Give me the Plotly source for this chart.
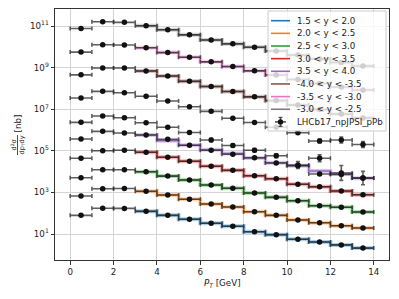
import plotly.graph_objects as go

# ---------------- data ----------------
pt_centers = [0.5, 1.5, 2.5, 3.5, 4.5, 5.5, 6.5, 7.5, 8.5, 9.5, 10.5, 11.5, 12.5, 13.5]
pt_halfwidth = [0.5] * 14
theory_edges = [3, 4, 5, 6, 7, 8, 9, 10, 11, 12, 13, 14]

# data (scaled per rapidity bin), bottom to top
d_15_20 = [79, 172, 170, 123, 79, 51, 33, 23.5, 12.9, 9.3, 5.6, 4.1, 3.0, 2.1]
d_20_25 = [670, 1500, 1540, 1130, 750, 466, 277, 199, 118, 79, 47, 35, 25, 19.4]
d_25_30 = [5100, 12300, 12300, 9900, 6100, 3950, 2270, 1580, 940, 580, 400, 230, 192, 114]
d_30_35 = [43600, 101000, 106000, 85000, 48700, 31300, 18000, 11500, 6350, 4560, 2450, 1880, 1170, 775]
d_35_40 = [3.69e5, 8.65e5, 7.2e5, 5.75e5, 3.57e5, 1.84e5, 1.06e5, 6.8e4, 4.66e4, 2.59e4, 1.92e4, 7.7e3, 7.3e3, 4.9e3]
d_m50_m45 = [2.34e6, 4.71e6, 3.9e6, 2.24e6, 1.35e6, 7.6e5, 3.3e5, 1.8e5, 1.06e5, 5.8e4, 2.08e4, 4.36e4, 8.6e3, 4.9e3]
d_m45_m40 = [3.45e7, 7.26e7, 6.2e7, 4.22e7, 2.48e7, 1.32e7, 7.9e6, 3.7e6, 2.3e6, 1.35e6, 7.4e5, 2.96e5, 3.3e5, 2.0e5]
d_m40_m35 = [4.5e8, 9.6e8, 9.6e8, 6.9e8, 3.95e8, 2.19e8, 1.23e8, 7.1e7, 3.95e7, 2.6e7, 1.6e7, 9.7e6, 5.9e6, 3.8e6]
d_m35_m30 = [5.6e9, 1.26e10, 1.22e10, 9.1e9, 5.3e9, 3.16e9, 1.9e9, 1.13e9, 7.0e8, 4.4e8, 2.7e8, 1.72e8, 1.17e8, 8.4e7]
d_m30_m25 = [7.6e10, 1.61e11, 1.51e11, 1.03e11, 6.6e10, 3.78e10, 2.12e10, 1.39e10, 9.6e9, 6.3e9, 4.0e9, 2.6e9, 1.76e9, 1.19e9]

# relative y uncertainties (up, down) - small except for low-statistics points
err_small = [0.08] * 14
err_up_m50_m45 = [0.08, 0.08, 0.08, 0.08, 0.08, 0.1, 0.2, 0.2, 0.2, 0.25, 0.47, 0.47, 1.29, 1.09]
err_dn_m50_m45 = [0.08, 0.08, 0.08, 0.08, 0.08, 0.1, 0.17, 0.17, 0.17, 0.2, 0.32, 0.32, 0.56, 0.52]
err_up_m45_m40 = [0.08, 0.08, 0.08, 0.08, 0.08, 0.08, 0.08, 0.08, 0.08, 0.1, 0.15, 0.25, 0.39, 0.39]
err_dn_m45_m40 = [0.08, 0.08, 0.08, 0.08, 0.08, 0.08, 0.08, 0.08, 0.08, 0.1, 0.13, 0.2, 0.28, 0.28]

# theory step values for bins 3-4 ... 13-14
t_15_20 = [123, 79, 51, 33, 23.5, 12.9, 9.3, 5.6, 4.1, 3.0, 2.1]
t_20_25 = [1130, 750, 466, 277, 199, 118, 79, 47, 35, 25, 19.4]
t_25_30 = [9900, 6100, 3950, 2270, 1580, 940, 580, 400, 230, 192, 114]
t_30_35 = [85000, 48700, 31300, 18000, 11500, 6350, 4560, 2450, 1880, 1170, 775]
t_35_40 = [5.75e5, 3.06e5, 1.84e5, 1.13e5, 7.4e4, 4.5e4, 2.68e4, 1.92e4, 1.07e4, 7.67e3, 4.77e3]
t_m40_m35 = [6.9e8, 3.95e8, 2.19e8, 1.23e8, 7.1e7, 3.95e7, 2.6e7, 1.6e7, 9.7e6, 5.9e6, 3.8e6]
t_m35_m30 = [9.1e9, 5.3e9, 3.16e9, 1.9e9, 1.13e9, 7.0e8, 4.4e8, 2.7e8, 1.72e8, 1.17e8, 8.4e7]
t_m30_m25 = [1.03e11, 6.6e10, 3.78e10, 2.12e10, 1.39e10, 9.6e9, 6.3e9, 4.0e9, 2.6e9, 1.76e9, 1.19e9]

theory_labels = ["1.5 < y < 2.0", "2.0 < y < 2.5", "2.5 < y < 3.0", "3.0 < y < 3.5",
                 "3.5 < y < 4.0", "-4.0 < y < -3.5", "-3.5 < y < -3.0", "-3.0 < y < -2.5"]
data_label = "LHCb17_npJPSI_pPb"
x_ticks = [0, 2, 4, 6, 8, 10, 12, 14]
y_ticks = [1e1, 1e3, 1e5, 1e7, 1e9, 1e11]
y_ticktext = ["10<sup>1</sup>", "10<sup>3</sup>", "10<sup>5</sup>", "10<sup>7</sup>",
              "10<sup>9</sup>", "10<sup>11</sup>"]

# ---------------- styling ----------------
colors = ["#1f77b4", "#ff7f0e", "#2ca02c", "#d62728", "#9467bd", "#8c564b", "#e377c2", "#7f7f7f"]
band_colors = ["rgba(31,119,180,0.35)", "rgba(255,127,14,0.35)", "rgba(44,160,44,0.35)",
               "rgba(214,39,40,0.35)", "rgba(148,103,189,0.35)", "rgba(140,86,75,0.35)",
               "rgba(227,119,194,0.35)", "rgba(127,127,127,0.35)"]
FONT = "DejaVu Sans"
FS = 8.7

theories = [t_15_20, t_20_25, t_25_30, t_30_35, t_35_40, t_m40_m35, t_m35_m30, t_m30_m25]
datas = [d_15_20, d_20_25, d_25_30, d_30_35, d_35_40, d_m50_m45, d_m45_m40, d_m40_m35, d_m35_m30, d_m30_m25]
errs = [(err_small, err_small)] * 5 + [(err_up_m50_m45, err_dn_m50_m45), (err_up_m45_m40, err_dn_m45_m40)] + [(err_small, err_small)] * 3

fig = go.Figure()

for vals, col, bcol, lab in zip(theories, colors, band_colors, theory_labels):
    yv = list(vals) + [vals[-1]]
    fig.add_trace(go.Scatter(x=theory_edges, y=yv, mode="lines", line=dict(color=bcol, width=4, shape="hv"),
                             showlegend=False, hoverinfo="skip"))
    fig.add_trace(go.Scatter(x=theory_edges, y=yv, mode="lines", line=dict(color=col, width=1.5, shape="hv"),
                             name=lab, showlegend=False))

for vals, (eu, ed) in zip(datas, errs):
    fig.add_trace(go.Scatter(
        x=pt_centers, y=vals, mode="markers",
        marker=dict(color="#111111", size=5.5),
        error_x=dict(type="data", array=pt_halfwidth, color="rgba(40,40,40,0.75)", thickness=1.6, width=2),
        error_y=dict(type="data", symmetric=False,
                     array=[v * f for v, f in zip(vals, eu)],
                     arrayminus=[v * f for v, f in zip(vals, ed)],
                     color="rgba(40,40,40,0.75)", thickness=1.6, width=2),
        name=data_label, showlegend=False))

# ---------------- manual legend (matplotlib style) ----------------
L, R, T, B = 55, 389, 9, 260
def px(x):
    return (x - L) / (R - L)
def py(y):
    return (B - y) / (B - T)

shapes = [dict(type="rect", xref="paper", yref="paper", x0=px(268), x1=px(386), y0=py(131), y1=py(11),
               line=dict(color="#cccccc", width=1), fillcolor="rgba(255,255,255,0.8)", layer="above")]
annotations = []
row0, dy = 20.7, 12.65
for i, (col, lab) in enumerate(zip(colors, theory_labels)):
    yy = row0 + dy * i
    shapes.append(dict(type="line", xref="paper", yref="paper", x0=px(271), x1=px(290), y0=py(yy), y1=py(yy),
                       line=dict(color=col, width=1.6), layer="above"))
    annotations.append(dict(text=lab, xref="paper", yref="paper", x=px(295), y=py(yy), xanchor="left",
                            yanchor="middle", showarrow=False, font=dict(family=FONT, size=FS, color="#222")))
yy = row0 + dy * 8
cx = 280.5
shapes.append(dict(type="line", xref="paper", yref="paper", x0=px(275), x1=px(286), y0=py(yy), y1=py(yy),
                   line=dict(color="rgba(40,40,40,0.8)", width=1.6), layer="above"))
shapes.append(dict(type="line", xref="paper", yref="paper", x0=px(cx), x1=px(cx), y0=py(yy - 4.5), y1=py(yy + 4.5),
                   line=dict(color="rgba(40,40,40,0.8)", width=1.6), layer="above"))
for ye in (yy - 4.5, yy + 4.5):
    shapes.append(dict(type="line", xref="paper", yref="paper", x0=px(cx - 2), x1=px(cx + 2), y0=py(ye), y1=py(ye),
                       line=dict(color="rgba(40,40,40,0.8)", width=1.2), layer="above"))
shapes.append(dict(type="circle", xref="paper", yref="paper", xsizemode="pixel", ysizemode="pixel",
                   xanchor=px(cx), yanchor=py(yy), x0=-2.7, x1=2.7, y0=-2.7, y1=2.7,
                   fillcolor="#111111", line=dict(width=0), layer="above"))
annotations.append(dict(text=data_label, xref="paper", yref="paper", x=px(295), y=py(yy), xanchor="left",
                        yanchor="middle", showarrow=False, font=dict(family=FONT, size=FS, color="#222")))

# y-axis title drawn as a rotated fraction: d²σ / (dp_T dy) [nb]
annotations.append(dict(text="d<sup>2</sup>σ", xref="paper", yref="paper",
                        x=px(13.5), y=py(145), textangle=-90, xanchor="center", yanchor="middle",
                        showarrow=False, font=dict(family=FONT, size=6.5, color="#222")))
annotations.append(dict(text="dp<sub>T</sub>dy", xref="paper", yref="paper",
                        x=px(21.5), y=py(145), textangle=-90, xanchor="center", yanchor="middle",
                        showarrow=False, font=dict(family=FONT, size=6.5, color="#222")))
shapes.append(dict(type="line", xref="paper", yref="paper", x0=px(17.5), x1=px(17.5), y0=py(155), y1=py(135),
                   line=dict(color="#222", width=0.8)))
annotations.append(dict(text="[nb]", xref="paper", yref="paper",
                        x=px(17.5), y=py(124), textangle=-90, xanchor="center", yanchor="middle",
                        showarrow=False, font=dict(family=FONT, size=FS, color="#222")))
annotations.append(dict(text="<i>P</i><sub><i>T</i></sub> [GeV]", xref="paper", yref="paper",
                        x=px(222), y=py(283), xanchor="center", yanchor="middle",
                        showarrow=False, font=dict(family=FONT, size=FS, color="#222")))

fig.update_layout(
    width=399, height=299,
    margin=dict(l=L, r=399 - R, t=T, b=299 - B),
    paper_bgcolor="white", plot_bgcolor="white",
    font=dict(family=FONT, size=FS, color="#222"),
    showlegend=False,
    shapes=shapes, annotations=annotations,
    xaxis=dict(range=[-0.7, 14.7], tickvals=x_ticks, showgrid=True, gridcolor="#d4d4d4", gridwidth=1,
               zeroline=False, showline=True, linecolor="#333", linewidth=1, mirror=True,
               ticks="outside", ticklen=3.5, tickcolor="#333"),
    yaxis=dict(type="log", range=[-0.25, 11.82], tickvals=y_ticks, ticktext=y_ticktext,
               showgrid=True, gridcolor="#d4d4d4", gridwidth=1, zeroline=False,
               showline=True, linecolor="#333", linewidth=1, mirror=True,
               ticks="outside", ticklen=3.5, tickcolor="#333"),
)

fig.write_html("out.html", config={"displayModeBar": False},
               post_script="document.body.style.margin='0px';document.body.style.padding='0px';")
